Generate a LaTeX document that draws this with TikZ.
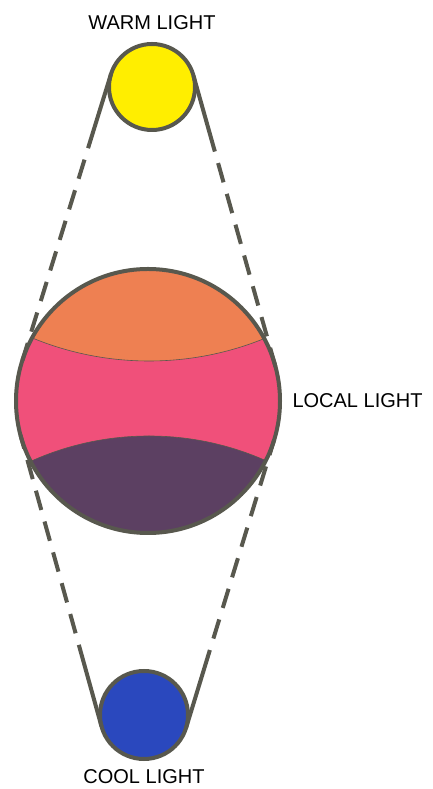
\documentclass[tikz,border=0pt]{standalone}
\usepackage{fontspec}
\setmainfont{Liberation Sans}
\usetikzlibrary{positioning, calc}
\definecolor{warmyellow}{RGB}{255,238,0}
\definecolor{orangetop}{RGB}{238,128,82}
\definecolor{pinkmid}{RGB}{240,80,122}
\definecolor{purplelow}{RGB}{92,64,98}
\definecolor{coolblue}{RGB}{42,72,190}
\definecolor{rim}{RGB}{88,88,78}

\begin{document}
\begin{tikzpicture}[x=1pt, y=1pt, font=\fontsize{20}{24}\selectfont,
    lamp/.style={circle, draw=rim, line width=4pt, inner sep=0pt, outer sep=0pt},
    belt/.style={draw=rim, line width=4pt},
    gapped/.style={belt, dash pattern=on 20pt off 12pt, dash phase=20pt}]
    \useasboundingbox (0,0) rectangle (432,789);
    % bands of the local light
    \begin{scope}
        \clip (148,388) circle (132);
        \fill[pinkmid] (0,200) rectangle (300,560);
        \fill[orangetop] (149,734) circle (306);
        \fill[purplelow] (149,65) circle (288);
        \draw[rim, line width=0.6pt] (149,734) circle (306);
        \draw[rim, line width=0.6pt] (149,65) circle (288);
    \end{scope}
    \node[lamp, minimum size=264pt] (local) at (148,388) {};
    \node[lamp, fill=warmyellow, minimum size=86pt] (warm) at (152,702) {};
    \node[lamp, fill=coolblue, minimum size=88pt] (cool) at (144,74) {};
    \node[above=11pt of warm] (warmlbl) {WARM LIGHT};
    \node[right=9pt of local] (locallbl) {LOCAL LIGHT};
    \node[below=7pt of cool] (coollbl) {COOL LIGHT};
    % belts, solid near the small lights
    \draw[belt] (warm.162.8) -- ($(warm.162.8)!0.26!(local.162.8)$) coordinate (wl);
    \draw[gapped] (wl) -- (local.162.8);
    \draw[belt] (warm.15.8) -- ($(warm.15.8)!0.26!(local.15.8)$) coordinate (wr);
    \draw[gapped] (wr) -- (local.15.8);
    \draw[belt] (cool.195.6) -- ($(cool.195.6)!0.28!(local.195.6)$) coordinate (cl);
    \draw[gapped] (cl) -- (local.195.6);
    \draw[belt] (cool.343) -- ($(cool.343)!0.27!(local.343)$) coordinate (cr);
    \draw[gapped] (cr) -- (local.343);
\end{tikzpicture}
\end{document}
